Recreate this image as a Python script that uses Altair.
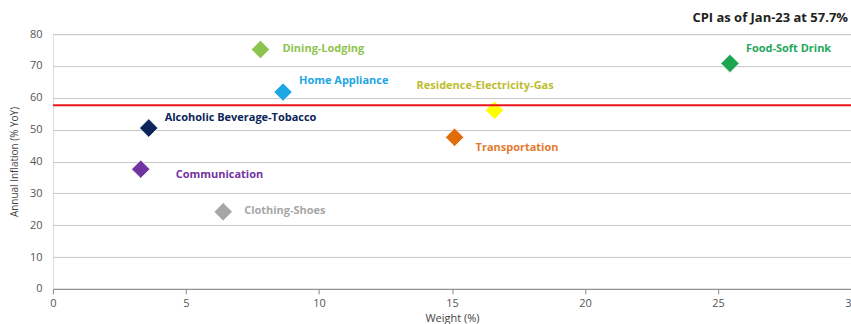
import altair as alt
import pandas as pd

categories = ["Dining-Lodging", "Home Appliance", "Alcoholic Beverage-Tobacco", "Communication",
              "Clothing-Shoes", "Residence-Electricity-Gas", "Transportation", "Food-Soft Drink"]
weights = [7.8, 8.65, 3.6, 3.3, 6.4, 16.6, 15.1, 25.45]
inflation = [75.2, 61.8, 50.5, 37.6, 24.2, 56.1, 47.6, 70.8]
cpi_headline = 57.7
chart_title = "CPI as of Jan-23 at 57.7%"

marker_colors = ["#8DC44E", "#1DA6E3", "#0B2559", "#7234A0", "#A6A6A6", "#FFFF00", "#E36C0A", "#1DA54F"]
label_colors = ["#8DC44E", "#1DA6E3", "#0B2559", "#7234A0", "#A6A6A6", "#BDBD2E", "#E37A2E", "#22A85A"]
label_offsets = {
    "Dining-Lodging": (22, 0),
    "Home Appliance": (16, -11),
    "Alcoholic Beverage-Tobacco": (16, -10),
    "Communication": (35, 6),
    "Clothing-Shoes": (21, -1),
    "Residence-Electricity-Gas": (-78, -24),
    "Transportation": (21, 11),
    "Food-Soft Drink": (16, -14),
}

df = pd.DataFrame({"cat": categories, "w": weights, "inf": inflation,
                   "mc": marker_colors, "lc": label_colors})

FONT = "Open Sans"
xs = alt.Scale(domain=[0, 30], nice=False)
ys = alt.Scale(domain=[0, 80], nice=False)

xaxis = alt.Axis(values=[0, 5, 10, 15, 20, 25, 30], grid=False, domainColor="#888", tickColor="#888",
                 tickSize=5, labelPadding=4, titlePadding=4, labelFontSize=11, titleFontSize=11,
                 labelColor="#555", titleColor="#444", labelFont=FONT, titleFont=FONT,
                 titleFontWeight="normal", labelFlush=False)
yaxis = alt.Axis(values=[0, 10, 20, 30, 40, 50, 60, 70, 80], grid=True, gridColor="#C8C8C8",
                 domain=False, ticks=False, labelPadding=11, titlePadding=10, labelFontSize=11,
                 titleFontSize=10, labelColor="#555", titleColor="#444", labelFont=FONT,
                 titleFont=FONT, titleFontWeight="normal", labelOverlap=False, labelFlush=False)

def X(f):
    return alt.X(f, scale=xs, title="Weight (%)", axis=xaxis)

def Y(f):
    return alt.Y(f, scale=ys, title="Annual Inflation (% YoY)", axis=yaxis)

base = alt.Chart(df)

points = base.mark_point(shape="diamond", filled=True, size=340, opacity=1, stroke="white", strokeWidth=0.8).encode(
    x=X("w:Q"), y=Y("inf:Q"), color=alt.Color("mc:N", scale=None),
)

rule = alt.Chart(pd.DataFrame({"v": [cpi_headline]})).mark_rule(color="#E8161B", strokeWidth=2).encode(
    y=Y("v:Q")
)

title_text = alt.Chart(pd.DataFrame({"t": [chart_title]})).mark_text(
    align="right", baseline="middle", font=FONT, fontSize=13, fontWeight="bold", color="#222"
).encode(text="t:N", x=alt.value(796), y=alt.value(-16))

layers = [points, rule, title_text]
for i, c in enumerate(categories):
    dx, dy = label_offsets[c]
    layers.append(
        alt.Chart(df[df.cat == c]).mark_text(align="left", baseline="middle", dx=dx, dy=dy,
                                             font=FONT, fontSize=11, fontWeight="bold").encode(
            x=X("w:Q"), y=Y("inf:Q"), text="cat:N",
            color=alt.Color("lc:N", scale=None))
    )

chart = alt.layer(*layers).properties(
    width=799, height=255,
    autosize=alt.AutoSizeParams(type="none"),
    padding={"left": 53, "top": 34, "right": 0, "bottom": 35},
).configure_view(stroke=None).configure(background="white")

chart.save("out.html", embed_options={"renderer": "svg", "actions": False})
